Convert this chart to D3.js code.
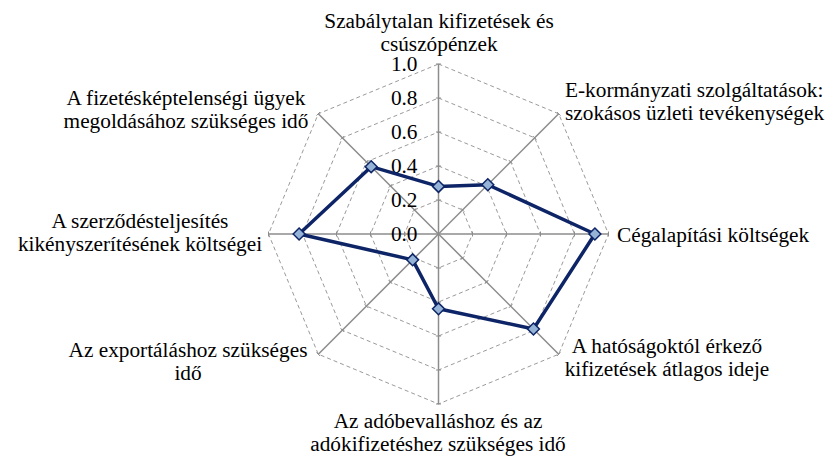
<!DOCTYPE html>
<html><head><meta charset="utf-8">
<script src="https://cdn.jsdelivr.net/npm/d3@7"></script>
<style>body{margin:0;background:#fff}svg{display:block}</style>
</head><body>
<svg id="c" width="825" height="459"></svg>
<script>
const categories = [
  "Szabálytalan kifizetések és csúszópénzek",
  "E-kormányzati szolgáltatások: szokásos üzleti tevékenységek",
  "Cégalapítási költségek",
  "A hatóságoktól érkező kifizetések átlagos ideje",
  "Az adóbevalláshoz és az adókifizetéshez szükséges idő",
  "Az exportáláshoz szükséges idő",
  "A szerződésteljesítés kikényszerítésének költségei",
  "A fizetésképtelenségi ügyek megoldásához szükséges idő"
];
const labelLines = [
  ["Szabálytalan kifizetések és", "csúszópénzek"],
  ["E-kormányzati szolgáltatások:", "szokásos üzleti tevékenységek"],
  ["Cégalapítási költségek"],
  ["A hatóságoktól érkező", "kifizetések átlagos ideje"],
  ["Az adóbevalláshoz és az", "adókifizetéshez szükséges idő"],
  ["Az exportáláshoz szükséges", "idő"],
  ["A szerződésteljesítés", "kikényszerítésének költségei"],
  ["A fizetésképtelenségi ügyek", "megoldásához szükséges idő"]
];
const values = [0.28, 0.41, 0.92, 0.79, 0.44, 0.215, 0.82, 0.56];
const tickValues = [0, 0.2, 0.4, 0.6, 0.8, 1.0];

const svg = d3.select("#c");
const cx = 438.5, cy = 234, R = 170;
const FONT = '"Liberation Serif"';
const fs = 21.3;
const r = d3.scaleLinear().domain([0, 1]).range([0, R]);
const ang = d3.scalePoint().domain(d3.range(categories.length)).range([0, 2*Math.PI*(categories.length-1)/categories.length]);
const pt = (i, v) => [cx + r(v)*Math.sin(ang(i)), cy - r(v)*Math.cos(ang(i))];

const g = svg.append("g");
tickValues.filter(t => t > 0).forEach(t => {
  g.append("path")
    .attr("d", d3.line()(categories.map((c, i) => pt(i, t))) + "Z")
    .attr("fill", "none").attr("stroke", "#9a9a9a").attr("stroke-width", 1)
    .attr("stroke-dasharray", "4,3");
});
categories.forEach((c, i) => {
  const [x2, y2] = pt(i, 1);
  g.append("line").attr("x1", cx).attr("y1", cy).attr("x2", x2).attr("y2", y2)
    .attr("stroke", "#8c8c8c").attr("stroke-width", 1.5);
  tickValues.filter(t => t > 0).forEach(t => {
    const [px, py] = pt(i, t);
    const a = ang(i);
    const nx = Math.cos(a), ny = Math.sin(a);
    g.append("line").attr("x1", px - nx*2.5).attr("y1", py - ny*2.5)
      .attr("x2", px + nx*2.5).attr("y2", py + ny*2.5)
      .attr("stroke", "#8c8c8c").attr("stroke-width", 1);
  });
});
const fmt = d3.format(".1f");
g.selectAll("text.tick").data(tickValues).join("text")
  .attr("class", "tick")
  .attr("x", cx - 21).attr("y", d => cy - r(d))
  .attr("dy", "0.35em").attr("text-anchor", "end")
  .style("font-family", FONT).attr("font-size", fs).attr("fill", "#000")
  .text(d => fmt(d));

const labelPos = [
  {x: 439, y: 28, a: "middle"},
  {x: 565, y: 97, a: "start"},
  {x: 617, y: 242, a: "start"},
  {x: 667, y: 353, a: "middle"},
  {x: 438, y: 428, a: "middle"},
  {x: 188, y: 357, a: "middle"},
  {x: 140, y: 228, a: "middle"},
  {x: 186, y: 105, a: "middle"}
];
labelLines.forEach((lines, i) => {
  const p = labelPos[i];
  const t = svg.append("text")
    .style("font-family", FONT).attr("font-size", fs)
    .attr("text-anchor", p.a).attr("fill", "#000");
  lines.forEach((l, j) => t.append("tspan").attr("x", p.x).attr("y", p.y + j*23).text(l));
});

const linePts = values.map((v, i) => pt(i, v));
svg.append("path").attr("d", d3.line()(linePts) + "Z")
  .attr("fill", "none").attr("stroke", "#0d2466").attr("stroke-width", 3.5)
  .attr("stroke-linejoin", "round");
const sym = d3.symbol().type(d3.symbolDiamond2).size(90);
svg.selectAll("path.m").data(values).join("path").attr("class", "m")
  .attr("transform", (d, i) => `translate(${pt(i, d)[0]},${pt(i, d)[1]})`)
  .attr("d", sym)
  .attr("fill", "#95b3d7").attr("stroke", "#0d2466").attr("stroke-width", 1.5);
</script>
</body></html>
